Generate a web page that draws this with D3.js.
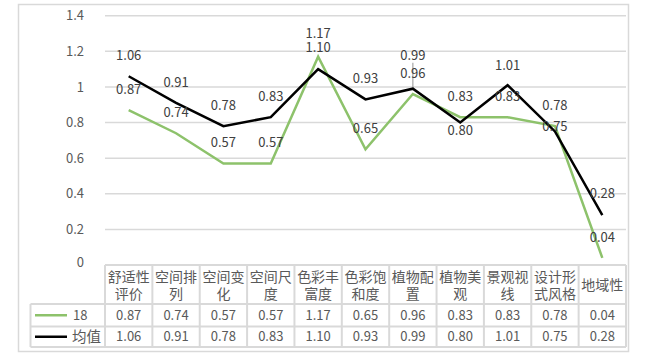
<!DOCTYPE html>
<html><head><meta charset="utf-8">
<script src="https://cdn.jsdelivr.net/npm/d3@7"></script>
<style>body{margin:0;background:#fff}svg{display:block}</style>
</head><body><svg id="c" width="658" height="356"></svg>
<script>
const categories = [["舒适性","评价"],["空间排","列"],["空间变","化"],["空间尺","度"],["色彩丰","富度"],["色彩饱","和度"],["植物配","置"],["植物美","观"],["景观视","线"],["设计形","式风格"],["地域性"]];
const seriesNames = ["18","均值"];
const s18 = [0.87,0.74,0.57,0.57,1.17,0.65,0.96,0.83,0.83,0.78,0.04];
const sMean = [1.06,0.91,0.78,0.83,1.10,0.93,0.99,0.80,1.01,0.75,0.28];
const yTicks = [0,0.2,0.4,0.6,0.8,1,1.2,1.4];
const colors = ["#8DC26B","#000000"];
// label offsets (vertical, px) per series
const off18 = [-21,-21,-21,-21,-23,-21,-21,-21,-21,-21,-21];
const offMean = [-21,-21,-21,-21,-22,-21,-33,8,-20,-5,-22];

const svg = d3.select("#c");
const font = "'Noto Sans CJK SC','Microsoft YaHei',sans-serif";
const L = 105, R = 626, T = 15.7, B = 265;
const x = d3.scaleBand().domain(d3.range(categories.length)).range([L,R]);
const y = d3.scaleLinear().domain([0,1.4]).range([B,T]);

// outer border
svg.append("rect").attr("x",18.5).attr("y",4.5).attr("width",610).attr("height",347)
  .attr("fill","none").attr("stroke","#D9D9D9").attr("stroke-width",1.5);

// gridlines
svg.append("g").selectAll("line").data(yTicks.filter(d=>d>0)).join("line")
  .attr("x1",L).attr("x2",R).attr("y1",d=>y(d)).attr("y2",d=>y(d))
  .attr("stroke","#D9D9D9").attr("stroke-width",1.5);

// y axis labels
const yAxis = d3.axisLeft(y).tickValues(yTicks).tickSize(0).tickPadding(0).tickFormat(d=>String(d));
const ya = svg.append("g").attr("transform",`translate(${L-21},0)`).call(yAxis);
ya.select(".domain").remove();
ya.selectAll("text").attr("font-family",font).attr("font-size",13).attr("fill","#595959");
ya.selectAll(".tick").filter(d=>d===0).select("text").attr("dy","0.1em");

// table
const rowY = [265,304,326.5,347];
const g = svg.append("g");
const gridC = "#D9D9D9";
g.append("line").attr("x1",L).attr("x2",R).attr("y1",rowY[0]).attr("y2",rowY[0]).attr("stroke",gridC).attr("stroke-width",2);
[1,2,3].forEach(i=>g.append("line").attr("x1",30.5).attr("x2",R).attr("y1",rowY[i]).attr("y2",rowY[i]).attr("stroke",gridC).attr("stroke-width",2));
d3.range(categories.length+1).forEach(i=>{
  const xx = i<categories.length ? x(i) : R;
  g.append("line").attr("x1",xx).attr("x2",xx).attr("y1",rowY[0]).attr("y2",rowY[3]).attr("stroke",gridC).attr("stroke-width",2);
});
g.append("line").attr("x1",30.5).attr("x2",30.5).attr("y1",rowY[1]).attr("y2",rowY[3]).attr("stroke",gridC).attr("stroke-width",2);

// category headers
categories.forEach((c,i)=>{
  const cx = x(i)+x.bandwidth()/2;
  const lines = c.length;
  c.forEach((t,j)=>{
    const cy = lines===1 ? (rowY[0]+rowY[1])/2 : (rowY[0]+rowY[1])/2 + 1 + (j-0.5)*17.5;
    g.append("text").attr("x",cx).attr("y",cy).attr("dy","0.36em").attr("text-anchor","middle")
      .attr("font-family",font).attr("font-size",14).attr("fill","#595959").text(t);
  });
});
// data rows
[s18,sMean].forEach((s,r)=>{
  const cy = (rowY[r+1]+rowY[r+2])/2;
  s.forEach((v,i)=>{
    g.append("text").attr("x",x(i)+x.bandwidth()/2).attr("y",cy).attr("dy","0.36em").attr("text-anchor","middle")
      .attr("font-family",font).attr("font-size",13).attr("fill","#595959").text(v.toFixed(2));
  });
  g.append("line").attr("x1",35).attr("x2",67).attr("y1",cy).attr("y2",cy).attr("stroke",colors[r]).attr("stroke-width",2.5);
  g.append("text").attr("x",r===0?73:72).attr("y",cy).attr("dy","0.36em")
    .attr("font-family",font).attr("font-size",r===0?13:14.5).attr("fill","#595959").text(seriesNames[r]);
});

// leader line for 0.99
const li = 6;
svg.append("line").attr("x1",x(li)+x.bandwidth()/2).attr("x2",x(li)+x.bandwidth()/2)
  .attr("y1",y(sMean[li])+offMean[li]+7).attr("y2",y(sMean[li]))
  .attr("stroke","#A6A6A6").attr("stroke-width",1.2);

// lines
const line = d3.line().x((d,i)=>x(i)+x.bandwidth()/2).y(d=>y(d));
[s18,sMean].forEach((s,r)=>{
  svg.append("path").datum(s).attr("d",line).attr("fill","none")
    .attr("stroke",colors[r]).attr("stroke-width",2.5).attr("stroke-linejoin","miter");
});

// data labels
[[s18,off18],[sMean,offMean]].forEach(([s,o])=>{
  s.forEach((v,i)=>{
    svg.append("text").attr("x",x(i)+x.bandwidth()/2).attr("y",y(v)+o[i]).attr("dy","0.36em")
      .attr("text-anchor","middle").attr("font-family",font).attr("font-size",13)
      .attr("fill","#404040").text(v.toFixed(2));
  });
});
</script></body></html>
